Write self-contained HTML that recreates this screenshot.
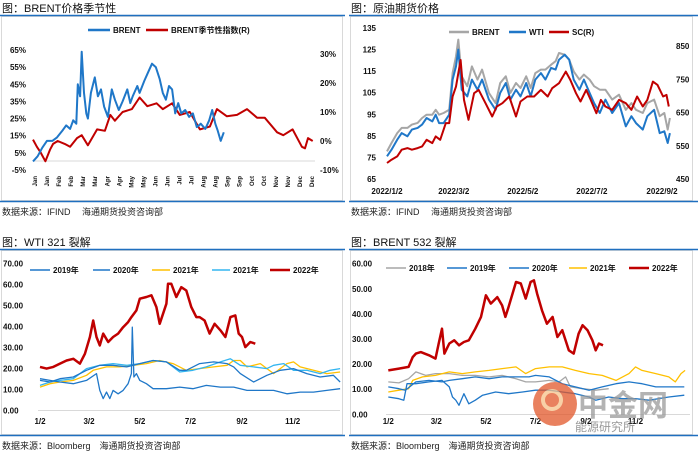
<!DOCTYPE html>
<html><head><meta charset="utf-8">
<style>
body{margin:0;background:#fff;width:698px;height:454px;overflow:hidden;font-family:"Liberation Sans","Noto Sans CJK SC",sans-serif;}
svg text{font-family:"Liberation Sans","Noto Sans CJK SC",sans-serif;}
</style></head>
<body>
<svg id="root" width="698" height="454" viewBox="0 0 698 454" xmlns="http://www.w3.org/2000/svg">
  <!-- panel frames -->
  <g fill="none" stroke="#d9d9d9" stroke-width="1">
    <rect x="1.5" y="16.5" width="341" height="184"/>
    <rect x="350.5" y="16.5" width="342" height="184"/>
    <rect x="1.5" y="250.5" width="341" height="184"/>
    <rect x="350.5" y="250.5" width="342" height="184"/>
  </g>
  <g stroke="#1f6fbf" stroke-width="1.5">
    <line x1="0" y1="15.5" x2="345" y2="15.5"/>
    <line x1="349" y1="15.5" x2="698" y2="15.5"/>
    <line x1="0" y1="201.5" x2="345" y2="201.5"/>
    <line x1="349" y1="201.5" x2="698" y2="201.5"/>
    <line x1="0" y1="249.5" x2="345" y2="249.5"/>
    <line x1="349" y1="249.5" x2="698" y2="249.5"/>
    <line x1="0" y1="435.5" x2="345" y2="435.5"/>
    <line x1="349" y1="435.5" x2="698" y2="435.5"/>
  </g>
  <g font-size="11" fill="#111">
    <text x="2" y="12">图：BRENT价格季节性</text>
    <text x="351" y="12">图：原油期货价格</text>
    <text x="2" y="246">图：WTI 321 裂解</text>
    <text x="351" y="246">图：BRENT 532 裂解</text>
  </g>
  <g font-size="9" fill="#222">
    <text x="2" y="215">数据来源：IFIND　 海通期货投资咨询部</text>
    <text x="351" y="215">数据来源：IFIND　 海通期货投资咨询部</text>
    <text x="2" y="449">数据来源：Bloomberg　海通期货投资咨询部</text>
    <text x="351" y="449">数据来源：Bloomberg　海通期货投资咨询部</text>
  </g>
  <g id="c1"></g>
  <g id="c2"></g>
  <g id="c3"></g>
  <g id="c4"></g>
  <g opacity="0.75">
    <circle cx="555" cy="404" r="22" fill="#e2572a"/>
    <circle cx="552" cy="400" r="9" fill="none" stroke="#f6c28a" stroke-width="4"/>
    <text x="578" y="416" font-size="30" font-weight="bold" fill="#9a9a9a">中金网</text>
    <text x="575" y="431" font-size="12" fill="#777">能源研究所</text>
  </g>
</svg>
<script>
var NS='http://www.w3.org/2000/svg';
function mk(parent,tag,attrs){var e=document.createElementNS(NS,tag);for(var k in attrs)e.setAttribute(k,attrs[k]);parent.appendChild(e);return e;}

/* ---------- Chart 1: BRENT seasonality ---------- */
var c1MonthLabels=['Jan','Jan','Feb','Feb','Mar','Mar','Apr','Apr','May','May','Jun','Jun','Jul','Jul','Aug','Aug','Sep','Sep','Oct','Oct','Nov','Nov','Dec','Dec'];
var c1LeftTicks=[65,55,45,35,25,15,5,-5];
var c1RightTicks=[30,20,10,0,-10];
var c1BrentDays=[0,6,12,18,25,31,38,43,48,52,56,58,61,63,66,69,71,75,80,84,88,92,97,102,106,111,116,122,126,129,135,138,144,149,154,159,164,168,172,176,180,184,188,192,197,202,207,212,217,223,228,232,236,239,243,247];
var c1BrentVals=[0,3,8,12,12,14,18,21,19,24,22,45,38,64,40,28,25,40,49,38,42,32,26,42,36,30,35,42,34,38,44,40,47,52,57,55,48,40,36,44,42,28,34,28,30,26,28,20,22,19,24,30,22,18,12,17];
var c1SeasonDays=[0,5,10,16,22,26,32,41,48,57,63,71,83,93,100,106,116,128,138,148,160,168,180,190,203,216,229,238,251,264,277,290,300,316,324,336,348,352,356,362];
var c1SeasonVals=[0.5,-2,-4,-7,-3,-1,0,-1,-2,1,2,-1.5,4,3.5,9,7,10,11,15,12,13,11,13,9,10,4,5,11,8.5,9,11,8,8,3,2,4,-2,-2.5,1,0];

/* ---------- Chart 2: crude futures ---------- */
var c2XLabels=['2022/1/2','2022/3/2','2022/5/2','2022/7/2','2022/9/2'];
var c2XLabelDays=[0,59,120,181,243];
var c2LeftTicks=[135,125,115,105,95,85,75,65];
var c2RightTicks=[850,750,650,550,450];
var c2Days=[0,4,9,13,18,22,27,31,35,40,43,46,50,55,58,61,63,66,71,75,80,84,90,96,100,105,109,114,118,123,127,131,136,140,145,149,152,157,161,165,170,174,179,183,188,193,199,205,211,216,220,226,230,236,241,245,248,250];
var c2Wti=[75.5,78.6,83.2,86.3,84.8,87.9,88.7,90.2,93.3,91.7,94.8,90.9,90.9,94.8,111.1,117.2,125,106.4,103.3,111.1,106.4,111.1,101.8,97.1,104.9,109.5,101.8,106.4,103.3,109.5,103.3,111.1,114.1,111.1,116.5,115.7,120.3,122.6,120.3,111.1,106.4,111.1,104.9,100.2,95.6,101.8,95.6,100.2,89.4,94.1,90.9,87.9,94.1,97.1,86.3,87.1,81.7,86.3];
var c2Brent=[77.8,81.7,86.3,88.7,88.7,90.2,91.0,93.3,94.8,94.8,97.1,94.8,95.6,97.1,114.1,121.9,129.6,112.6,108,117.2,111.1,115.7,104.9,100.2,109.5,112.6,104.9,109.5,107.2,112.6,107.2,114.1,115.7,115.7,118,119.6,123.4,122.6,120.3,114.9,111.1,113.4,111.1,108,106.4,106.4,101.8,104.1,97.1,100.2,97.1,95.6,100.2,101.8,94.1,95.6,87.9,93.3];
var c2ScDays=[0,4,9,13,18,22,27,31,35,40,43,47,52,55,58,61,65,68,72,77,81,87,93,97,102,108,114,118,124,130,136,142,146,152,158,162,167,171,176,180,185,189,193,199,205,211,216,221,226,230,235,239,244,247,249];
var c2Sc=[498,508,518,538,543,538,543,548,568,558,578,568,618,618,698,728,808,688,628,708,718,678,638,668,678,698,638,683,698,698,718,698,723,738,773,748,708,683,718,688,648,688,668,658,688,678,658,698,668,688,743,733,698,703,668];

/* ---------- Chart 3: WTI 321 crack ---------- */
var c3XLabels=['1/2','3/2','5/2','7/2','9/2','11/2'];
var c3XLabelDays=[0,59,120,181,243,304];
var c3YTicks=[0,10,20,30,40,50,60,70];
var c3DaysA=[0,12,24,40,56,72,88,104,120,136,152,168,176,192,209,225,233,241,257,273,289,305,321,337,353,361];
var c3Y2019=[14.3,13.5,15.1,15.9,19.1,21.5,21.5,20.7,22.3,23.8,23.1,19.1,19.1,22.3,23.1,22.3,20.7,17.5,13.5,16.7,19.1,19.9,17.5,15.9,16.7,13.5];
var c3Days2020=[0,12,24,40,56,68,72,76,80,84,88,94,100,106,110,111,113,116,120,128,136,152,168,184,200,217,233,249,265,281,297,313,329,345,361];
var c3Y2020=[15.1,14.3,13.5,12.7,14.3,17.5,9.5,5.6,8.7,5.6,9.5,7.9,9.5,12.7,17.5,39.7,15.9,17.5,14.3,12.7,10.3,10.3,11.1,10.3,11.9,11.1,11.1,9.5,9.5,9.5,7.9,8.7,8.7,9.5,10.3];
var c3Days2021=[0,12,24,40,56,64,80,96,112,128,144,160,176,192,209,225,233,241,249,265,281,297,305,313,329,345,361];
var c3Y2021=[11.1,12.7,13.5,14.3,16.7,19.1,20.7,20.7,21.5,22.3,23.8,22.3,19.1,19.9,20.7,21.5,23.8,23.8,20.7,22.3,17.5,22.3,23.1,20.7,19.1,17.5,18.3];
var c3DaysB=[0,12,24,40,56,72,88,104,120,136,152,168,184,200,217,229,241,257,273,281,293,305,321,337,349,361];
var c3Y2021b=[11.9,13.5,14.3,15.1,19.9,21.5,22.3,21.5,22.3,23.8,23.1,18.3,19.1,20.7,23.1,24.6,21.5,20.7,19.9,21.5,22.3,19.1,19.1,17.5,19.1,19.9];
var c3Days2022=[0,8,16,24,32,40,48,54,60,64,68,72,76,82,88,94,100,106,110,116,120,128,134,140,144,152,154,158,164,170,176,182,188,192,198,204,210,217,223,229,235,239,243,247,253,259];
var c3Y2022=[20.7,19.9,20.7,22.3,23.8,24.6,22.3,27.0,35.0,42.9,35.0,31.0,36.6,32.6,35.0,36.6,39.7,42.1,44.5,47.7,53.3,54.1,54.9,49.3,41.3,50.9,60.4,60.4,54.1,58.8,57.2,49.3,44.5,44.5,42.9,36.6,41.3,38.2,35.0,44.5,45.3,36.6,35.0,30.2,32.6,31.8];

/* ---------- Chart 4: BRENT 532 crack ---------- */
var c4XLabels=['1/2','3/2','5/2','7/2','9/2','11/2'];
var c4XLabelDays=[0,59,120,181,243,304];
var c4YTicks=[0,10,20,30,40,50,60];
var c4Days2018=[0,13,25,34,46,58,75,91,107,124,140,157,169,181,198,210,218,224,239,255,271];
var c4Y2018=[12.9,12.5,14.2,16.9,15.5,16.2,16.2,15.5,15.5,14.9,15.5,14.2,12.9,12.9,13.5,12.9,14.9,10.9,10.2,9.6,10.2];
var c4Days2019=[0,13,21,34,50,66,75,91,107,124,140,157,173,181,198,214,230,247,263,280,296,312,329,345,364];
var c4Y2019=[10.9,10.2,9.6,12.9,13.5,12.9,13.5,14.2,14.9,14.2,14.9,14.9,14.9,15.5,14.9,12.2,10.9,9.6,10.9,12.2,12.9,12.2,10.9,10.9,10.9];
var c4Days2020=[0,13,19,23,34,50,66,75,79,83,87,93,99,107,116,132,148,165,181,198,214,230,247,255,271,288,304,321,345,364];
var c4Y2020=[6.9,6.2,5.6,12.2,12.2,12.9,13.5,10.9,6.9,5.6,3.6,8.2,4.2,5.6,7.6,8.9,8.2,8.9,9.6,9.6,8.9,8.2,6.9,5.6,6.9,6.2,6.2,5.6,6.9,7.6];
var c4Days2021=[0,13,25,30,42,58,75,91,107,124,140,157,169,181,198,214,230,247,263,280,296,304,312,329,345,353,360,365];
var c4Y2021=[8.9,9.6,10.2,13.5,14.9,15.5,16.9,16.2,16.9,17.5,18.2,18.9,16.2,18.2,18.9,18.9,17.5,16.2,15.5,13.5,16.2,18.9,17.5,16.2,14.9,12.9,16.2,17.5];
var c4Days2022=[0,13,25,30,34,40,50,58,62,66,69,75,81,87,93,99,107,114,120,126,134,140,144,148,157,163,169,175,179,183,189,195,202,208,214,222,228,234,239,245,251,255,259,264];
var c4Y2022=[17.5,18.2,18.9,22.8,24.2,24.8,23.5,22.2,28.2,34.1,24.2,28.2,29.5,27.5,28.8,29.5,34.1,38.8,47.4,44.1,46.7,43.4,38.8,42.8,52.7,52.1,46.1,52.7,53.4,48.1,41.4,36.1,38.8,30.8,33.5,25.5,24.2,32.1,35.5,33.5,29.5,25.5,28.2,27.5];

function lin(d0,d1,r0,r1){return function(v){return r0+(v-d0)*(r1-r0)/(d1-d0);};}
function series(g,days,vals,xf,yf,color,w,name){
  var d='';
  for(var i=0;i<days.length;i++){d+=(i?'L':'M')+xf(days[i]).toFixed(1)+' '+yf(vals[i]).toFixed(1);}
  var p=mk(g,'path',{d:d,fill:'none',stroke:color,'stroke-width':w,'stroke-linejoin':'round'});
  
  
  return p;
}
function txt(g,x,y,s,size,anchor,name){
  var t=mk(g,'text',{x:x,y:y,'font-size':size,'text-anchor':anchor||'start',fill:'#111','font-weight':'bold'});
  t.textContent=s;
  
  
  return t;
}
function legend(g,x1,x2,y,color,w,label,name){
  var l=mk(g,'line',{x1:x1,y1:y,x2:x2,y2:y,stroke:color,'stroke-width':w});
  
  
  txt(g,x2+3,y+3,label,8,'start',name+'-label');
}

/* chart 1 render */
(function(){
  var g=document.getElementById('c1');
  var x=lin(0,365,33,315), yl=lin(-5,65,170,50), yr=lin(-10,30,170,54);
  mk(g,'line',{x1:33,y1:161,x2:315,y2:161,stroke:'#d9d9d9','stroke-width':1});
  c1LeftTicks.forEach(function(v){txt(g,26,yl(v)+3,v+'%',8,'end','left-tick');});
  c1RightTicks.forEach(function(v){txt(g,320,yr(v)+3,v+'%',8,'start','right-tick');});
  c1MonthLabels.forEach(function(m,i){
    var xx=35+i*(277/23);
    var t=txt(g,0,0,m,6,'end','x-tick');
    t.setAttribute('transform','translate('+(xx+2)+',176) rotate(-90)');
  });
  series(g,c1SeasonDays,c1SeasonVals,x,yr,'#c00000',2,'brent-seasonal-index-line');
  series(g,c1BrentDays,c1BrentVals,x,yl,'#1f77c8',2,'brent-line');
  legend(g,88,110,30,'#1f77c8',2.5,'BRENT','legend-brent');
  legend(g,146,168,30,'#c00000',2.5,'BRENT季节性指数(R)','legend-seasonal');
})();

/* chart 2 render */
(function(){
  var g=document.getElementById('c2');
  var x=lin(0,243,387,662), yl=lin(65,135,179,28), yr=lin(450,850,179,46);
  c2LeftTicks.forEach(function(v){txt(g,376,yl(v)+3,v,8,'end','left-tick');});
  c2RightTicks.forEach(function(v){txt(g,676,yr(v)+3,v,8,'start','right-tick');});
  c2XLabels.forEach(function(s,i){txt(g,x(c2XLabelDays[i]),194,s,8,'middle','x-tick');});
  series(g,c2Days,c2Brent,x,yl,'#a6a6a6',2,'brent-line');
  series(g,c2Days,c2Wti,x,yl,'#1f77c8',2,'wti-line');
  series(g,c2ScDays,c2Sc,x,yr,'#c00000',2,'sc-line');
  legend(g,449,469,32,'#a6a6a6',2.5,'BRENT','legend-brent');
  legend(g,509,526,32,'#1f77c8',2.5,'WTI','legend-wti');
  legend(g,549,569,32,'#c00000',2.5,'SC(R)','legend-sc');
})();

/* chart 3 render */
(function(){
  var g=document.getElementById('c3');
  var x=lin(0,304,40,292.7), y=lin(0,70,410.3,263.7);
  mk(g,'line',{x1:38,y1:410.5,x2:340,y2:410.5,stroke:'#d9d9d9','stroke-width':1});
  c3YTicks.forEach(function(v){txt(g,3,y(v)+3,v.toFixed(2),8,'start','y-tick');});
  c3XLabels.forEach(function(s,i){txt(g,x(c3XLabelDays[i]),424,s,8,'middle','x-tick');});
  series(g,c3Days2021,c3Y2021,x,y,'#ffc000',1.3,'line-2021-yellow');
  series(g,c3DaysB,c3Y2021b,x,y,'#33b5f0',1.3,'line-2021-lightblue');
  series(g,c3DaysA,c3Y2019,x,y,'#1f77c8',1.3,'line-2019');
  series(g,c3Days2020,c3Y2020,x,y,'#1f77c8',1.3,'line-2020');
  series(g,c3Days2022,c3Y2022,x,y,'#c00000',2.5,'line-2022');
  legend(g,30,50,270,'#1f77c8',1.5,'2019年','legend-2019');
  legend(g,93,110,270,'#1f77c8',1.5,'2020年','legend-2020');
  legend(g,152,170,270,'#ffc000',1.5,'2021年','legend-2021');
  legend(g,212,230,270,'#33b5f0',1.5,'2021年','legend-2021b');
  legend(g,270,290,270,'#c00000',2.5,'2022年','legend-2022');
})();

/* chart 4 render */
(function(){
  var g=document.getElementById('c4');
  var x=lin(0,304,388.3,635.5), y=lin(0,60,414.3,263.7);
  mk(g,'line',{x1:386,y1:414.5,x2:690,y2:414.5,stroke:'#d9d9d9','stroke-width':1});
  c4YTicks.forEach(function(v){txt(g,352,y(v)+3,v.toFixed(2),8,'start','y-tick');});
  c4XLabels.forEach(function(s,i){txt(g,x(c4XLabelDays[i]),424,s,8,'middle','x-tick');});
  series(g,c4Days2018,c4Y2018,x,y,'#a6a6a6',1.3,'line-2018');
  series(g,c4Days2021,c4Y2021,x,y,'#ffc000',1.3,'line-2021');
  series(g,c4Days2019,c4Y2019,x,y,'#1f77c8',1.3,'line-2019');
  series(g,c4Days2020,c4Y2020,x,y,'#1f77c8',1.3,'line-2020');
  series(g,c4Days2022,c4Y2022,x,y,'#c00000',2.5,'line-2022');
  legend(g,386,406,268,'#a6a6a6',1.5,'2018年','legend-2018');
  legend(g,447,467,268,'#1f77c8',1.5,'2019年','legend-2019');
  legend(g,509,529,268,'#1f77c8',1.5,'2020年','legend-2020');
  legend(g,569,587,268,'#ffc000',1.5,'2021年','legend-2021');
  legend(g,629,649,268,'#c00000',2.5,'2022年','legend-2022');
})();
</script>
</body></html>
